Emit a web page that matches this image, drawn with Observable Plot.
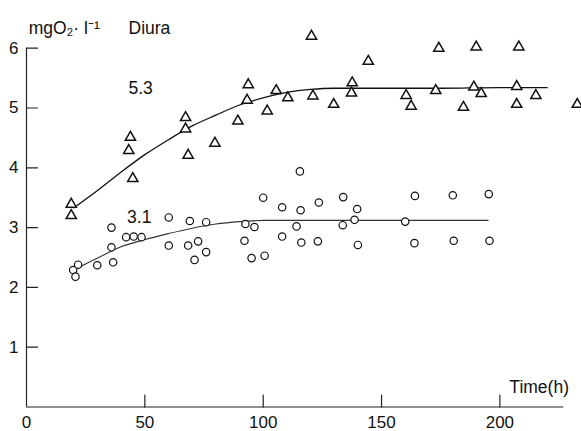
<!DOCTYPE html>
<html><head><meta charset="utf-8">
<script src="https://cdn.jsdelivr.net/npm/d3@7"></script>
<script src="https://cdn.jsdelivr.net/npm/@observablehq/plot@0.6"></script>
<style>body{margin:0;background:#fff}</style>
</head><body><div id="chart"></div>
<script>
// Triangles (upper series)
const triTime = [18.9,18.9,43.9,43.2,44.9,67.2,67.2,68.3,79.6,89.3,93.7,93.2,101.7,105.5,110.4,120.4,121.0,129.8,137.6,137.3,144.4,160.4,162.5,172.9,174.2,184.6,189.0,190.0,192.1,207.1,208.0,207.1,215.2,232.7];
const triO2   = [3.39,3.20,4.51,4.29,3.82,4.84,4.65,4.21,4.41,4.78,5.39,5.13,4.95,5.29,5.17,6.20,5.20,5.06,5.42,5.25,5.78,5.21,5.03,5.29,6.00,5.01,5.35,6.02,5.24,5.36,6.02,5.06,5.21,5.06];
// Circles (lower series)
const circTime = [19.7,21.8,20.7,29.9,36.6,35.9,35.9,42.1,45.3,48.6,60.1,60.1,69.0,68.3,72.5,71.0,75.9,75.9,100.0,92.5,96.3,92.1,95.1,100.6,108.0,108.0,115.5,115.8,114.1,116.1,123.5,123.1,133.8,133.6,139.7,138.6,140.0,160.0,164.1,163.9,180.1,180.5,195.3,195.6];
const circO2   = [2.29,2.38,2.18,2.37,2.42,2.67,3.00,2.84,2.85,2.84,3.17,2.70,3.11,2.70,2.77,2.46,2.59,3.09,3.50,3.06,3.01,2.78,2.49,2.53,3.34,2.85,3.94,3.29,3.02,2.75,3.42,2.77,3.51,3.04,3.31,3.13,2.71,3.10,3.53,2.74,3.54,2.78,3.56,2.78];
// Fitted curves
const fitTriTime = [20,30,40,50,60,70,80,90,100,110,120,130,150,175,200,220];
const fitTriO2   = [3.33,3.62,3.93,4.22,4.47,4.70,4.88,5.05,5.17,5.26,5.31,5.33,5.33,5.33,5.34,5.34];
const fitCircTime = [20,30,40,50,60,70,80,90,100,120,150,195];
const fitCircO2   = [2.29,2.49,2.68,2.80,2.90,2.99,3.06,3.10,3.12,3.12,3.12,3.12];
// Axes
const xTicks = [0,50,100,150,200];
const yTicks = [1,2,3,4,5,6];
const xTickMarks = [50,100,150,200];
// Annotations
const annText = ["mgO₂· l⁻¹","Diura","5.3","3.1","Time(h)"];
const annX    = [0.9,43.1,43.1,42.5,204];
const annY    = [6.33,6.33,5.33,3.17,0.33];

const tri = triTime.map((t,i)=>({t, v: triO2[i]}));
const circ = circTime.map((t,i)=>({t, v: circO2[i]}));
const fitTri = fitTriTime.map((t,i)=>({t, v: fitTriO2[i]}));
const fitCirc = fitCircTime.map((t,i)=>({t, v: fitCircO2[i]}));
const ann = annText.map((s,i)=>({s, x: annX[i], y: annY[i]}));
const tickShape = {draw(ctx, l){ ctx.moveTo(0,0); ctx.lineTo(0,-l); }};

const font = "Liberation Sans, Arial, Helvetica, sans-serif";
const chart = Plot.plot({
  width: 581, height: 431,
  marginLeft: 26, marginRight: 3.5, marginTop: 47.7, marginBottom: 24.5,
  style: {fontFamily: font, background: "#fff", color: "#111"},
  x: {domain: [0, 233], label: null},
  y: {domain: [0, 6], label: null},
  marks: [
    Plot.ruleY([0], {x1: 0, x2: 227, stroke: "#222", strokeWidth: 1.2}),
    Plot.ruleX([0], {y1: 0, y2: 6, stroke: "#222", strokeWidth: 1.2}),
    Plot.vector(xTickMarks, {x: d=>d, y: 0, length: 12, rotate: 0, anchor: "start", shape: tickShape, stroke: "#222", strokeWidth: 1.2}),
    Plot.vector(yTicks, {x: 0, y: d=>d, length: 11, rotate: 90, anchor: "start", shape: tickShape, stroke: "#222", strokeWidth: 1.2}),
    Plot.axisX({ticks: xTicks, tickSize: 0, tickPadding: 9, fontSize: 17, label: null, tickFormat: d=>String(d)}),
    Plot.axisY({ticks: yTicks, tickSize: 0, tickPadding: 8, fontSize: 17, label: null, tickFormat: d=>String(d)}),
    Plot.line(fitTri, {x: "t", y: "v", stroke: "#111", strokeWidth: 1.3, curve: "monotone-x"}),
    Plot.line(fitCirc, {x: "t", y: "v", stroke: "#333", strokeWidth: 1.1, curve: "monotone-x"}),
    Plot.dot(tri, {x: "t", y: "v", symbol: "triangle", r: 3.8, stroke: "#111", fill: "white", strokeWidth: 1.5}),
    Plot.dot(circ, {x: "t", y: "v", symbol: "circle", r: 3.7, stroke: "#111", fill: "white", strokeWidth: 1.2}),
    Plot.text(ann, {x: "x", y: "y", text: "s", textAnchor: "start", fontSize: 17.5, fill: "#111"})
  ]
});
document.getElementById("chart").appendChild(chart);
</script>
</body></html>
